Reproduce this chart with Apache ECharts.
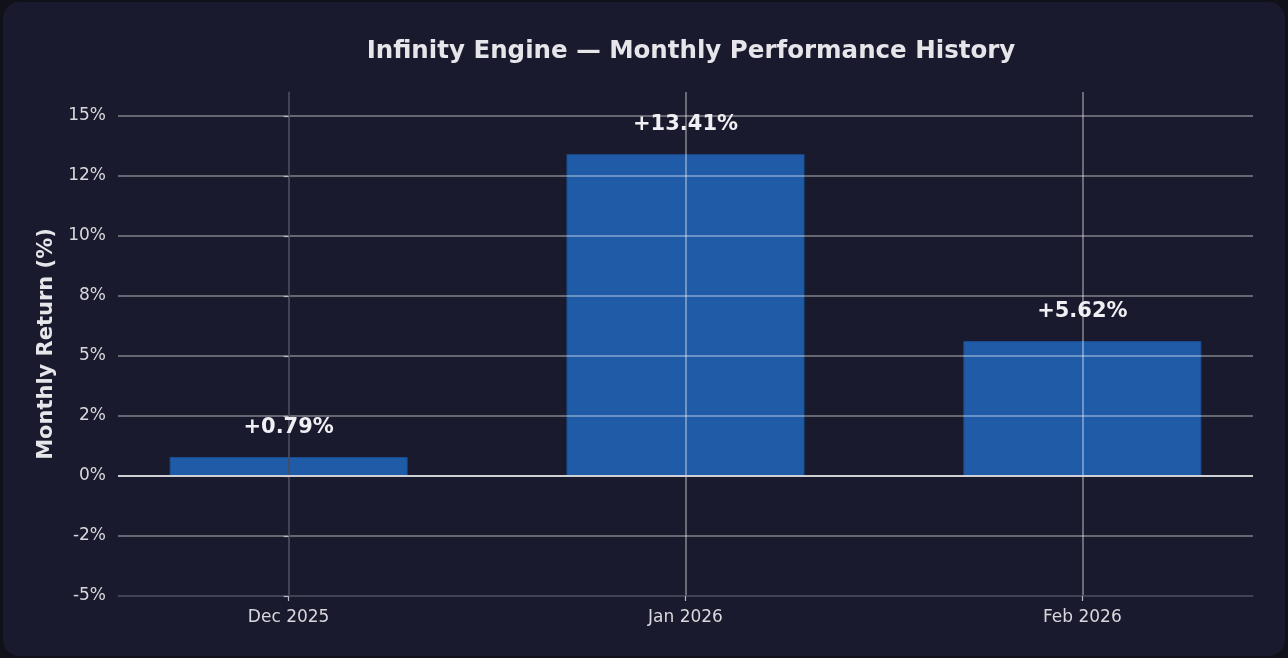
<!DOCTYPE html>
<html><head><meta charset="utf-8">
<script src="https://cdn.jsdelivr.net/npm/echarts@6/dist/echarts.min.js"></script>
<style>
html,body{margin:0;padding:0;background:#111119;width:1288px;height:658px;overflow:hidden}
#card{position:absolute;left:3px;top:2px;width:1282px;height:654px;border-radius:16px;background:#1a1a2e}
#chart{position:absolute;left:0;top:0;width:1288px;height:658px}
</style></head><body><div id="card"></div><div id="chart"></div>
<script>
const categories = ['Dec 2025', 'Jan 2026', 'Feb 2026'];
const monthlyReturns = [0.79, 13.41, 5.62];
const yTickValues = [-5, -2.5, 0, 2.5, 5, 7.5, 10, 12.5, 15];
const yTickLabels = ['-5%', '-2%', '0%', '2%', '5%', '8%', '10%', '12%', '15%'];
const xTickValues = [0, 1, 2];

const font = 'DejaVu Sans';
const chart = echarts.init(document.getElementById('chart'), null, {renderer: 'canvas'});
const points = categories.map((c, i) => [i, monthlyReturns[i]]);
const fmtPct = v => (v >= 0 ? '+' : '') + v.toFixed(2) + '%';
const gridLine = {color: 'rgba(255,255,255,0.45)', width: 1.6};

chart.setOption({
  backgroundColor: 'transparent',
  animation: false,
  title: {
    text: 'Infinity Engine — Monthly Performance History',
    left: 686, top: 34, textAlign: 'center',
    textStyle: {color: '#e6e6ea', fontFamily: font, fontWeight: 'bold', fontSize: 24.5}
  },
  grid: {left: 118, right: 35, top: 92, bottom: 62},
  xAxis: {
    type: 'value', min: -0.43, max: 2.43, z: 3,
    axisLine: {show: true, onZero: false, lineStyle: {color: '#35374b', width: 1.5}},
    axisTick: {show: true, customValues: xTickValues, length: 5, lineStyle: {color: '#b8b8c0', width: 1.2}},
    axisLabel: {customValues: xTickValues, formatter: v => categories[Math.round(v)],
      color: '#d8d8dc', fontFamily: font, fontSize: 17, margin: 13},
    splitLine: {show: true, lineStyle: gridLine}
  },
  yAxis: {
    type: 'value', min: -5, max: 16, z: 3,
    name: 'Monthly Return (%)', nameLocation: 'middle', nameGap: 56,
    nameTextStyle: {color: '#e6e6ea', fontFamily: font, fontWeight: 'bold', fontSize: 21},
    axisLine: {show: true, lineStyle: {color: '#35374b', width: 1.5}},
    axisTick: {show: true, customValues: yTickValues, length: 5, lineStyle: {color: '#b8b8c0', width: 1.2}},
    axisLabel: {customValues: yTickValues, formatter: v => yTickLabels[yTickValues.indexOf(v)],
      color: '#d8d8dc', fontFamily: font, fontSize: 17, margin: 12, padding: [4, 0, 0, 0]},
    splitLine: {show: true, lineStyle: gridLine}
  },
  series: [
    {
      type: 'bar', data: points, barWidth: 238, z: 2,
      itemStyle: {color: '#1f5ba7', borderColor: '#1b4f92', borderWidth: 1},
      markLine: {silent: true, symbol: 'none', label: {show: false},
        lineStyle: {color: '#cfcfd6', width: 1.8, type: 'solid'},
        data: [{yAxis: 0}]}
    },
    {
      type: 'scatter', data: points, symbolSize: 0, z: 10,
      itemStyle: {opacity: 1},
      label: {show: true, position: 'top', distance: 19,
        formatter: p => fmtPct(p.value[1]),
        color: '#f0f0f4', fontFamily: font, fontWeight: 'bold', fontSize: 21}
    }
  ]
});
</script></body></html>
